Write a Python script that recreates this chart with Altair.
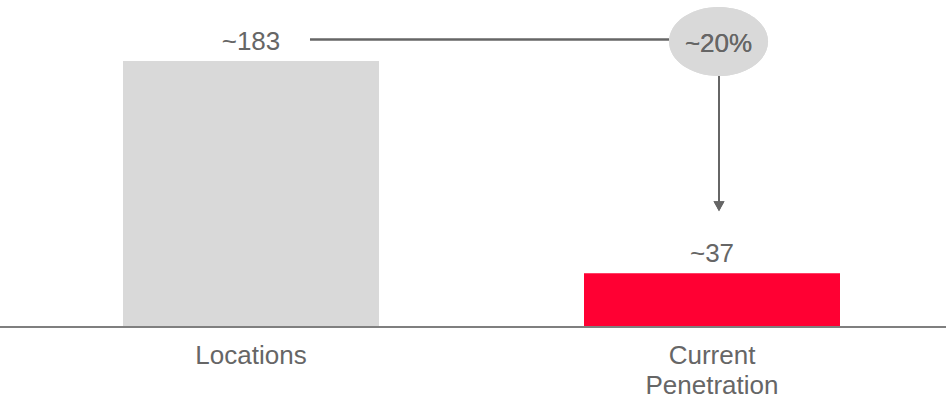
import altair as alt
import pandas as pd

categories = ["Locations", "Current Penetration"]
values = [183, 37]
value_labels = ["~183", "~37"]
bar_colors = ["#d9d9d9", "#ff0033"]
penetration_label = "~20%"

df = pd.DataFrame({"cat": categories, "val": values, "lab": value_labels, "col": bar_colors})

FONT = "Liberation Sans"
GRAY = "#666666"

x_scale = alt.Scale(domain=categories, range=[123, 840], paddingInner=0.4447, paddingOuter=0)
y_scale = alt.Scale(domain=[0, 225])

base = alt.Chart(df)

bars = base.mark_bar().encode(
    x=alt.X("cat:N", scale=x_scale, sort=categories,
            axis=alt.Axis(title=None, domain=False, ticks=False, labelAngle=0,
                          labelFont=FONT, labelFontSize=26, labelColor=GRAY,
                          labelPadding=15, labelLineHeight=30,
                          labelExpr="split(datum.value, ' ')")),
    y=alt.Y("val:Q", scale=y_scale, axis=None),
    color=alt.Color("col:N", scale=None),
)

texts = base.mark_text(font=FONT, fontSize=26, color=GRAY, baseline="alphabetic", dy=-11).encode(
    x=alt.X("cat:N", scale=x_scale, sort=categories),
    y=alt.Y("val:Q", scale=y_scale),
    text="lab:N",
)

baseline = alt.Chart(df).mark_rule(color="#7f7f7f", strokeWidth=2).encode(
    y=alt.datum(0, scale=y_scale), x=alt.value(0), x2=alt.value(946)
)

connector = alt.Chart(df).mark_rule(color=GRAY, strokeWidth=2, xOffset=59, x2Offset=-43, yOffset=-21.5).encode(
    x=alt.datum(categories[0], scale=x_scale),
    x2=alt.datum(categories[1]),
    y=alt.datum(values[0], scale=y_scale),
)

arrow_line = alt.Chart(df).mark_rule(color=GRAY, strokeWidth=2, xOffset=7, yOffset=15, y2Offset=-70).encode(
    x=alt.datum(categories[1], scale=x_scale),
    y=alt.datum(values[0], scale=y_scale),
    y2=alt.datum(values[1]),
)

arrow_head = alt.Chart(df).mark_point(
    shape="M -1 -0.9 L 1 -0.9 L 0 0.9 Z", size=121, filled=True, color=GRAY, opacity=1,
    xOffset=7, yOffset=-67,
).encode(
    x=alt.datum(categories[1], scale=x_scale),
    y=alt.datum(values[1], scale=y_scale),
)

ellipse = alt.Chart(df).mark_point(
    shape="M -1 0 A 1 0.697 0 1 0 1 0 A 1 0.697 0 1 0 -1 0 Z", size=9801, filled=True,
    color="#d9d9d9", opacity=1, xOffset=6.5, yOffset=-19.5,
).encode(
    x=alt.datum(categories[1], scale=x_scale),
    y=alt.datum(values[0], scale=y_scale),
)

ellipse_text = alt.Chart(df).mark_text(
    text=penetration_label, font=FONT, fontSize=26, color=GRAY, baseline="alphabetic", dx=6.5, dy=-9,
).encode(
    x=alt.datum(categories[1], scale=x_scale),
    y=alt.datum(values[0], scale=y_scale),
)

chart = alt.layer(bars, baseline, texts, connector, arrow_line, arrow_head, ellipse, ellipse_text).properties(
    width=946, height=327,
    autosize=alt.AutoSizeParams(type="none"),
    padding={"left": 0, "top": 0, "right": 0, "bottom": 74},
).configure(background="white").configure_view(stroke=None)

chart.save("out.html", embed_options={"renderer": "svg", "actions": False})
